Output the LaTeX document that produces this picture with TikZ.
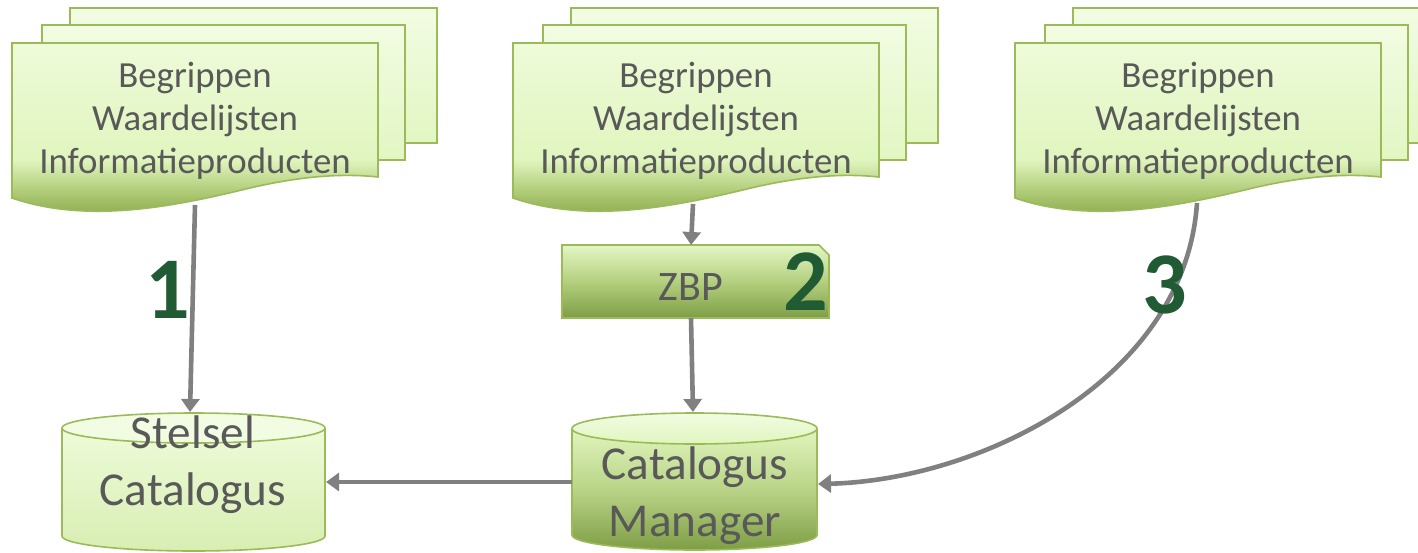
\documentclass[tikz,border=0pt]{standalone}
\usepackage{fontspec}
\setmainfont{Carlito}
\usetikzlibrary{arrows.meta}
\definecolor{brd}{HTML}{9BBB59}
\definecolor{txt}{HTML}{595959}
\definecolor{arrg}{HTML}{808080}
\definecolor{numg}{HTML}{215B34}
\definecolor{dkg}{HTML}{7E9E45}
\definecolor{midg}{HTML}{A9C66F}
\definecolor{lig}{HTML}{E0F5BE}
\definecolor{topg}{HTML}{EEFBD9}
\definecolor{bktop}{HTML}{F2FCE3}
\definecolor{bkbot}{HTML}{E2F6C2}
\pgfdeclareverticalshading{docfront}{100bp}{color(0bp)=(dkg); color(25bp)=(dkg); color(33bp)=(midg); color(43bp)=(lig); color(75bp)=(topg); color(100bp)=(topg)}
\tikzset{
  backpage/.style={draw=brd, line width=0.8pt, top color=bktop, bottom color=bkbot},
  frontpage/.style={draw=brd, line width=0.8pt, shading=docfront},
  doctext/.style={text=txt, align=center, font=\fontsize{18.4}{21.5}\selectfont},
  cyltext/.style={text=txt, align=center, font=\fontsize{23.6}{28.5}\selectfont},
  num/.style={text=numg, font=\fontsize{44}{44}\selectfont\bfseries},
  conn/.style={draw=arrg, line width=2.3pt, -{Triangle[length=6.5pt,width=9pt]}},
}
\newcommand\docgroup[2]{%
  \begin{scope}[shift={(#1,0)}]
    \draw[backpage] (70,8) rectangle (437,143);
    \draw[backpage] (42,25) rectangle (405,160);
    \draw[frontpage] (12,43) -- (378,43) -- (378,177) .. controls (350,174) and (310,174) .. (250,188) .. controls (180,205) and (90,225) .. (12,198) -- cycle;
    \node[doctext] (#2) at (195,121) {Begrippen\\Waardelijsten\\Informatieproducten};
  \end{scope}}
\begin{document}
\begin{tikzpicture}[x=0.5pt,y=-0.5pt]
\useasboundingbox (0,0) rectangle (1418,552);
\clip (0,0) rectangle (1418,552);
% documents
\docgroup{0}{doc1}
\docgroup{501}{doc2}
\docgroup{1003}{doc3}
\coordinate (doc1-out) at (195,205);
\coordinate (doc2-out) at (693,204);
\coordinate (doc3-out) at (1197,203);
% ZBP
\draw[draw=brd, line width=0.8pt, top color=lig!90!white, bottom color=dkg, middle color=midg!80!lig]
  (562,245) -- (819,245) -- (829,255) -- (829,318) -- (562,318) -- cycle;
\node[text=txt, font=\fontsize{21}{22}\selectfont] (zbp) at (691,287) {ZBP};
\coordinate (zbp-in) at (691,245);
\coordinate (zbp-out) at (691,318);
% Stelsel Catalogus cylinder
\fill[top color=topg, bottom color=lig!85!midg] (62,428) -- (62,536) arc[start angle=180,end angle=0,x radius=131.5,y radius=15] -- (325,428) -- cycle;
\draw[brd, line width=0.8pt] (62,428) -- (62,536) arc[start angle=180,end angle=0,x radius=131.5,y radius=15] -- (325,428);
\draw[brd, line width=0.8pt, fill=bktop] (193.5,428) ellipse [x radius=131.5, y radius=15];
\node[cyltext] (sc) at (193,465) {Stelsel\\Catalogus};
\coordinate (sc-top) at (190,412);
\coordinate (sc-r) at (326,482);
% Catalogus Manager cylinder
\fill[top color=lig, bottom color=dkg, middle color=midg!70!lig] (572,428.5) -- (572,535) arc[start angle=180,end angle=0,x radius=122.5,y radius=15] -- (817,428.5) -- cycle;
\draw[brd, line width=0.8pt] (572,428.5) -- (572,535) arc[start angle=180,end angle=0,x radius=122.5,y radius=15] -- (817,428.5);
\draw[brd, line width=0.8pt, top color=bktop, bottom color=lig] (694.5,428.5) ellipse [x radius=122.5, y radius=15.5];
\node[cyltext] (cm) at (695,496) {Catalogus\\Manager};
\coordinate (cm-top) at (693,412);
\coordinate (cm-l) at (572,482);
\coordinate (cm-r) at (818,484);
% connectors
\draw[conn] (doc1-out) -- (sc-top);
\draw[conn] (doc2-out) -- (zbp-in);
\draw[conn] (zbp-out) -- (cm-top);
\draw[conn] (cm-l) -- (sc-r);
\draw[conn] (doc3-out) .. controls (1185,380) and (980,480) .. (cm-r);
% numbers
\node[num] (n1) at (168,290) {1};
\node[num] (n2) at (806,282) {2};
\node[num] (n3) at (1165,285) {3};
\end{tikzpicture}
\end{document}
